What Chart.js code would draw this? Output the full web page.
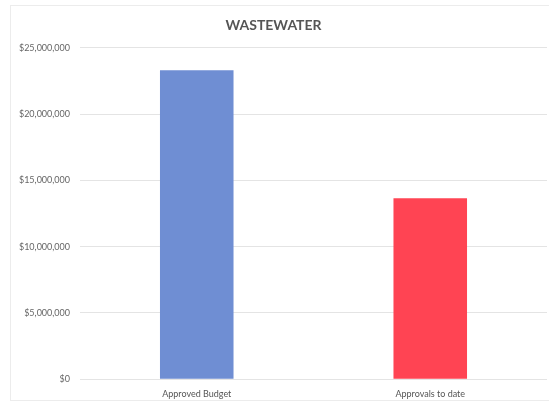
<!DOCTYPE html>
<html>
<head>
<meta charset="utf-8">
<script src="https://cdn.jsdelivr.net/npm/chart.js@4/dist/chart.umd.min.js"></script>
<style>
  html, body { margin: 0; padding: 0; background: #fff; }
  #wrap { position: relative; width: 549px; height: 408px; }
  #frame { position: absolute; left: 10px; top: 5px; width: 560px; height: 396px; border: 1px solid #ececec; box-sizing: border-box; }
  canvas { position: absolute; left: 0; top: 0; }
</style>
</head>
<body>
<div id="wrap">
  <div id="frame"></div>
  <canvas id="chart" width="549" height="408"></canvas>
</div>
<script>
// data
var categories = ['Approved Budget', 'Approvals to date'];
var amounts = [23300000, 13650000];
var barColors = ['#6f8ed3', '#ff4453'];
var yTicks = [0, 5000000, 10000000, 15000000, 20000000, 25000000];

function money(v) {
    return '$' + v.toLocaleString('en-US');
}

var ctx = document.getElementById('chart');
var myChart = new Chart(ctx, {
    type: 'bar',
    data: {
        labels: categories,
        datasets: [{
            data: amounts,
            backgroundColor: barColors,
            barPercentage: 0.63,
            categoryPercentage: 0.5
        }]
    },
    options: {
        responsive: false,
        animation: false,
        layout: { padding: { left: 0, right: 2, top: 0, bottom: 8 } },
        plugins: {
            legend: { display: false },
            tooltip: { enabled: false },
            title: {
                display: true,
                text: 'WASTEWATER',
                color: '#555',
                font: { family: 'Lato', size: 14, weight: 'bold' },
                padding: { top: 17, bottom: 14 }
            }
        },
        scales: {
            x: {
                grid: { display: false },
                border: { display: false },
                ticks: { color: '#555', font: { family: 'Lato', size: 9 }, padding: 1 }
            },
            y: {
                min: 0,
                max: 25000000,
                afterBuildTicks: function (axis) {
                    axis.ticks = yTicks.map(function (v) { return { value: v }; });
                },
                afterFit: function (axis) { axis.width = 80; },
                grid: { color: '#e4e4e4', drawTicks: false },
                border: { display: false },
                ticks: {
                    color: '#666',
                    font: { family: 'Lato', size: 9 },
                    padding: 10,
                    callback: function (v) { return money(v); }
                }
            }
        }
    }
});
ctx['_chart'] = myChart;
</script>
</body>
</html>
